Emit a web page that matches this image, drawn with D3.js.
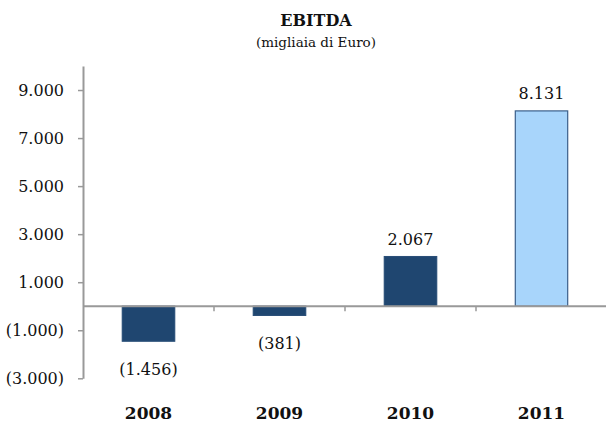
<!DOCTYPE html>
<html>
<head>
<meta charset="utf-8">
<script src="https://cdn.jsdelivr.net/npm/d3@7"></script>
<style>
  body { margin: 0; background: #fff; }
  svg { display: block; }
  text { font-family: "DejaVu Serif", serif; fill: #111; }
</style>
</head>
<body>
<div id="chart"></div>
<script>
const years = ["2008", "2009", "2010", "2011"];
const ebitda = [-1456, -381, 2067, 8131];
const yTicks = [-3000, -1000, 1000, 3000, 5000, 7000, 9000];
const yDomain = [-3000, 10000];

const W = 606, H = 424;
const plot = { left: 83, right: 607, top: 66, bottom: 378.3 };

// excel style: dot for thousands, negatives in brackets
const fmt = v => {
    const s = d3.format(",")(Math.abs(v)).replace(/,/g, ".");
    return v < 0 ? `(${s})` : s;
};

const svg = d3.select("#chart")
    .append("svg")
    .attr("width", W)
    .attr("height", H);

const x = d3.scaleBand()
    .domain(years)
    .range([plot.left, plot.right])
    .padding(0);

const y = d3.scaleLinear()
    .domain(yDomain)
    .range([plot.bottom, plot.top]);

const data = years.map((yr, i) => ({ year: yr, value: ebitda[i] }));
const barW = x.bandwidth() * 0.4;

// title
svg.append("text")
    .attr("x", 316)
    .attr("y", 26)
    .attr("text-anchor", "middle")
    .style("font-weight", "bold")
    .style("font-size", "16px")
    .text("EBITDA");

svg.append("text")
    .attr("x", 316)
    .attr("y", 47)
    .attr("text-anchor", "middle")
    .style("font-size", "13.5px")
    .text("(migliaia di Euro)");

// y axis
const yAxis = svg.append("g")
    .attr("transform", `translate(${plot.left},0)`)
    .call(d3.axisLeft(y)
        .tickValues(yTicks)
        .tickSize(5)
        .tickSizeOuter(0)
        .tickPadding(14)
        .tickFormat(fmt));

yAxis.select(".domain")
    .attr("stroke", "#999")
    .attr("stroke-width", 2);
yAxis.selectAll(".tick line")
    .attr("stroke", "#999")
    .attr("stroke-width", 1.5);
yAxis.selectAll(".tick text")
    .style("font-family", "'DejaVu Serif', serif")
    .style("font-size", "16px")
    .attr("fill", "#111");

// bars
svg.selectAll(".bar")
    .data(data)
    .enter()
    .append("rect")
    .attr("class", "bar")
    .attr("x", d => x(d.year) + (x.bandwidth() - barW) / 2)
    .attr("y", d => y(Math.max(0, d.value)))
    .attr("width", barW)
    .attr("height", d => Math.abs(y(d.value) - y(0)))
    .attr("fill", (d, i) => i === years.length - 1 ? "#a8d5fb" : "#1f4670")
    .attr("stroke", (d, i) => i === years.length - 1 ? "#3a5f8a" : "#2a4f78")
    .attr("stroke-width", 1.2);

// zero line + category ticks
svg.append("line")
    .attr("x1", plot.left)
    .attr("x2", W)
    .attr("y1", y(0))
    .attr("y2", y(0))
    .attr("stroke", "#999")
    .attr("stroke-width", 2);

svg.selectAll(".cat-tick")
    .data(years.slice(1))
    .enter()
    .append("line")
    .attr("class", "cat-tick")
    .attr("x1", d => x(d))
    .attr("x2", d => x(d))
    .attr("y1", y(0))
    .attr("y2", y(0) + 5)
    .attr("stroke", "#999")
    .attr("stroke-width", 1.5);

// value labels
svg.selectAll(".val")
    .data(data)
    .enter()
    .append("text")
    .attr("class", "val")
    .attr("x", d => x(d.year) + x.bandwidth() / 2)
    .attr("y", d => d.value >= 0 ? y(d.value) - 12 : y(d.value) + 34)
    .attr("text-anchor", "middle")
    .style("font-size", "16px")
    .text(d => fmt(d.value));

// category labels
svg.selectAll(".cat")
    .data(years)
    .enter()
    .append("text")
    .attr("class", "cat")
    .attr("x", d => x(d) + x.bandwidth() / 2)
    .attr("y", 419)
    .attr("text-anchor", "middle")
    .style("font-weight", "bold")
    .style("font-size", "17px")
    .text(d => d);
</script>
</body>
</html>
